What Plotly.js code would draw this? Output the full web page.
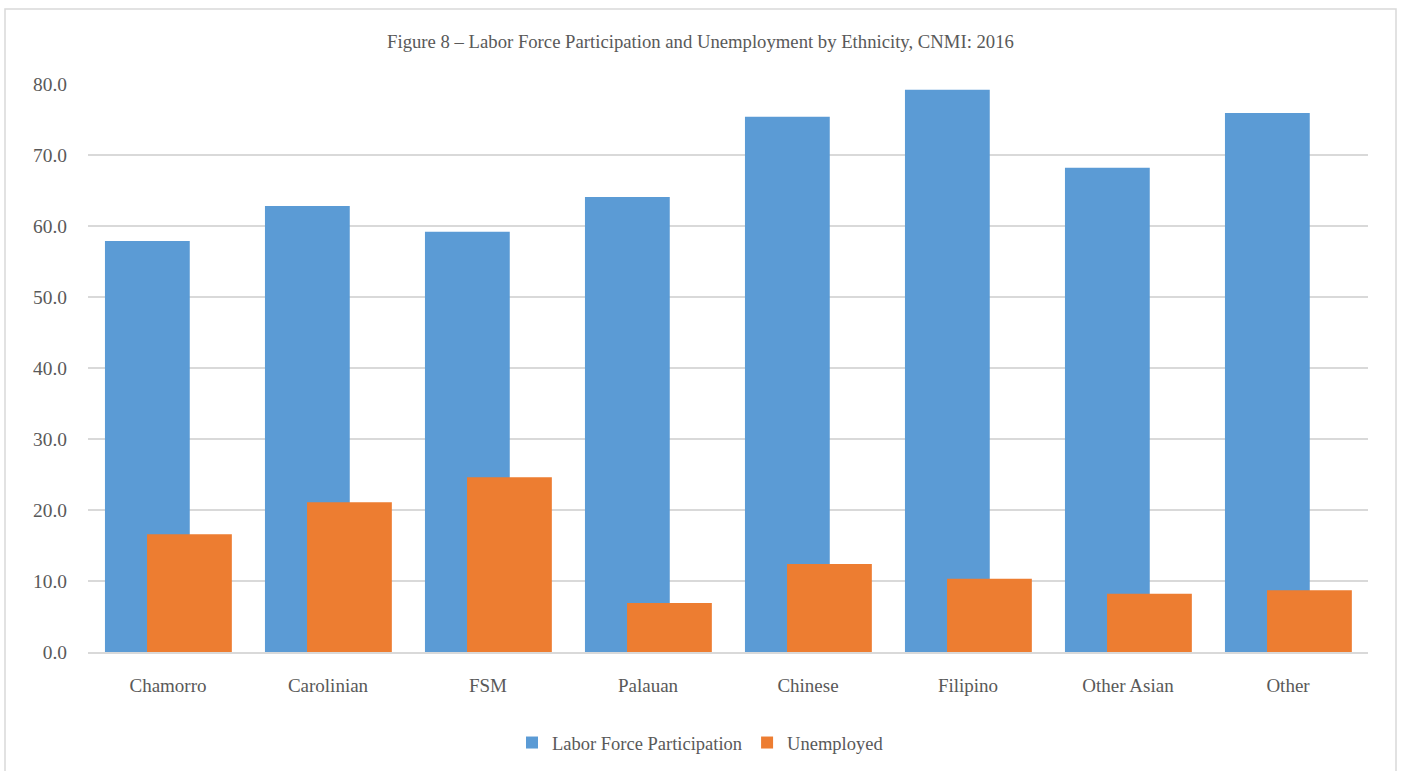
<!DOCTYPE html>
<html>
<head>
<meta charset="utf-8">
<script src="https://cdn.plot.ly/plotly-3.0.1.min.js"></script>
<style>html,body{margin:0;padding:0;background:#fff;}#chart{width:1401px;height:771px;}</style>
</head>
<body>
<div id="chart"></div>
<script>
const categories = ["Chamorro", "Carolinian", "FSM", "Palauan", "Chinese", "Filipino", "Other Asian", "Other"];
const laborForce = [57.9, 62.8, 59.2, 64.1, 75.4, 79.2, 68.2, 75.9];
const unemployed = [16.6, 21.1, 24.6, 6.9, 12.4, 10.3, 8.2, 8.7];
const seriesNames = ["Labor Force Participation", "Unemployed"];

const fam = "Liberation Serif, Times New Roman, serif";
const grey = "#595959";

const traces = [
  {type: "bar", x: categories, y: laborForce, name: seriesNames[0],
   marker: {color: "#5b9bd5"}, width: 0.53, offset: -0.394, hoverinfo: "x+y"},
  {type: "bar", x: categories, y: unemployed, name: seriesNames[1],
   marker: {color: "#ed7d31"}, width: 0.53, offset: -0.131, hoverinfo: "x+y"}
];

const layout = {
  width: 1401, height: 771,
  margin: {l: 88, r: 33, t: 84, b: 119},
  paper_bgcolor: "#fff", plot_bgcolor: "#fff",
  font: {family: fam, size: 18, color: grey},
  barmode: "overlay",
  title: {text: "Figure 8 – Labor Force Participation and Unemployment by Ethnicity, CNMI: 2016",
          font: {family: fam, size: 18.7, color: grey},
          x: 0.5, xref: "container", xanchor: "center", y: 1 - 41/771, yref: "container", yanchor: "middle"},
  xaxis: {type: "category", showgrid: false, showline: true, linecolor: "#d9d9d9", linewidth: 1.5,
          ticks: "", ticklabelstandoff: 16, tickfont: {family: fam, size: 19, color: grey}, zeroline: false},
  yaxis: {range: [0, 80], dtick: 10, tickformat: ".1f", showgrid: true, gridcolor: "#d9d9d9", gridwidth: 1.5,
          zeroline: false, showline: false, ticks: "", ticklabelstandoff: 20,
          tickfont: {family: fam, size: 19.4, color: grey}},
  showlegend: true,
  legend: {orientation: "h", x: 0.5, xref: "container", xanchor: "center", y: 1 - 743/771, yref: "container", yanchor: "middle",
           font: {family: fam, size: 18.5, color: grey}, itemwidth: 30, traceorder: "normal"},
  shapes: [{type: "rect", xref: "paper", yref: "paper",
            x0: (5 - 88) / 1280, x1: (1396 - 88) / 1280, y0: (652 - 780) / 568, y1: (652 - 9) / 568,
            line: {color: "#d9d9d9", width: 1.5}, fillcolor: "rgba(0,0,0,0)", layer: "below"}]
};

Plotly.newPlot("chart", traces, layout, {displayModeBar: false, staticPlot: true});
</script>
</body>
</html>
